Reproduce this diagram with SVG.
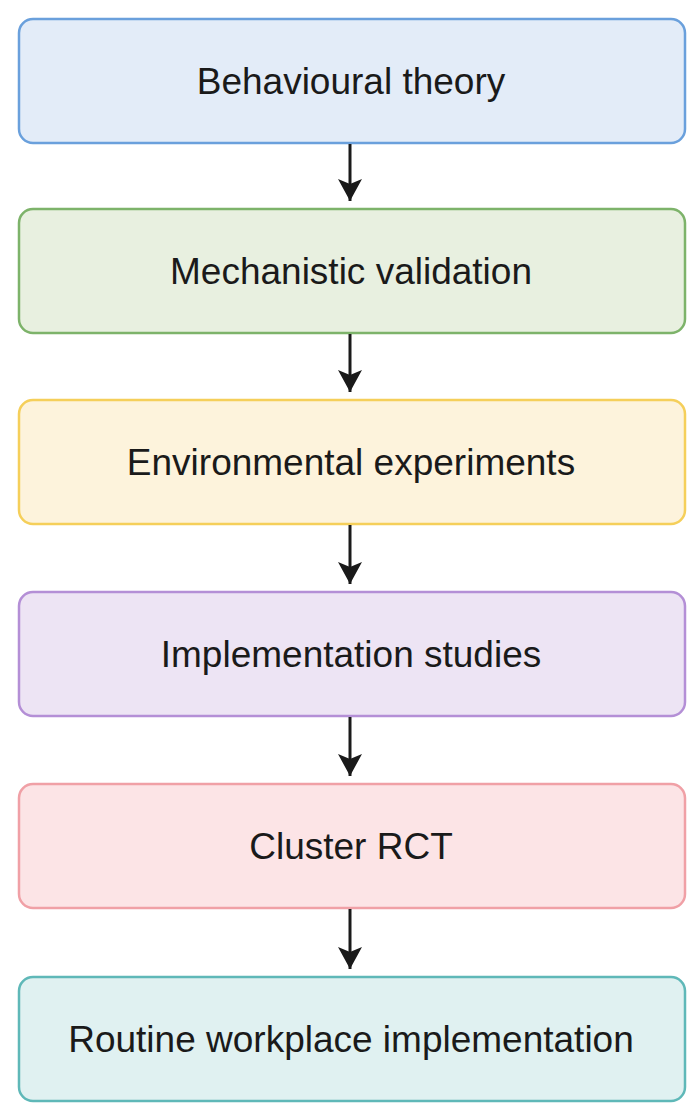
<svg xmlns="http://www.w3.org/2000/svg" width="699" height="1117" viewBox="0 0 699 1117">
<style>
.b{stroke-width:2.5}
.t{font-family:"Liberation Sans",Arial,sans-serif;font-size:37px;fill:#1a1a1a;text-anchor:middle;dominant-baseline:central}
.c{stroke:#1a1a1a;stroke-width:3;fill:none;marker-end:url(#a)}
</style>
<defs><marker id="a" viewBox="0 0 22 24" refX="22" refY="12" markerWidth="22" markerHeight="24" markerUnits="userSpaceOnUse" orient="auto"><path d="M0,0L22,12L0,24L5,12z" fill="#1a1a1a"/></marker></defs>
<g id="n1"><rect class="b" x="19" y="19" width="666" height="124" rx="14" fill="#e3ecf8" stroke="#6aa0dc"/><text class="t" x="351" y="81">Behavioural theory</text></g>
<g id="n2"><rect class="b" x="19" y="209" width="666" height="124" rx="14" fill="#e8f0e0" stroke="#7db36a"/><text class="t" x="351" y="271">Mechanistic validation</text></g>
<g id="n3"><rect class="b" x="19" y="400" width="666" height="124" rx="14" fill="#fdf3dc" stroke="#f5cf5a"/><text class="t" x="351" y="462">Environmental experiments</text></g>
<g id="n4"><rect class="b" x="19" y="592" width="666" height="124" rx="14" fill="#ede4f4" stroke="#b48fd6"/><text class="t" x="351" y="654">Implementation studies</text></g>
<g id="n5"><rect class="b" x="19" y="784" width="666" height="124" rx="14" fill="#fce4e6" stroke="#f0a0a6"/><text class="t" x="351" y="846">Cluster RCT</text></g>
<g id="n6"><rect class="b" x="19" y="977" width="666" height="124" rx="14" fill="#e0f1f1" stroke="#5fb8b8"/><text class="t" x="351" y="1039">Routine workplace implementation</text></g>
<g id="connectors">
<path class="c" d="M350,144V201"/>
<path class="c" d="M350,334V392"/>
<path class="c" d="M350,525V584"/>
<path class="c" d="M350,717V776"/>
<path class="c" d="M350,909V969"/>
</g>
</svg>
